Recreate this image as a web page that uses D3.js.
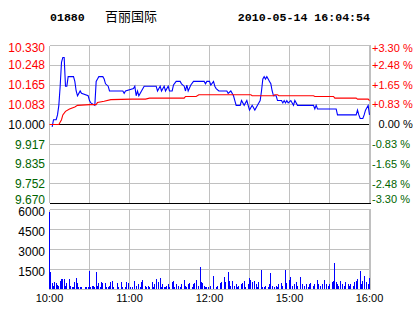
<!DOCTYPE html>
<head>
<meta charset="utf-8">
<script src="https://d3js.org/d3.v7.min.js"></script>
<style>
  body { margin:0; background:#fff; }
  text { font-family: "Liberation Sans", Arial, sans-serif; font-size: 12px; }
  .grid line { stroke: #c0c0c0; shape-rendering: crispEdges; }
  .head { font-family: "Liberation Mono", monospace; font-weight: bold; font-size: 11.6px; }
</style>
<body>
<script>
const stockCode = "01880";
const stockName = "百丽国际";
const stamp = "2010-05-14 16:04:54";
const preClose = 10.0;

const priceTicks = ["10.330", "10.248", "10.165", "10.083", "10.000", "9.917", "9.835", "9.752", "9.670"];
const pctTicks = ["+3.30 %", "+2.48 %", "+1.65 %", "+0.83 %", "0.00 %", "-0.83 %", "-1.65 %", "-2.48 %", "-3.30 %"];
const volTicks = [6000, 4500, 3000, 1500];
const timeTicks = [0, 60, 120, 180, 240];
const timeLabels = ["10:00", "11:00", "12:00", "15:00", "16:00"];

// trading minutes after 10:00 (lunch break removed)
const priceMin = [2, 3, 5, 6, 7, 8, 9, 10, 11, 12, 13, 14, 18, 19, 20, 21, 22, 23, 24, 29, 30, 31, 34, 35, 36, 37, 40, 41, 42, 44, 45,
  55, 56, 57, 63, 64, 65, 66, 67, 69, 71, 80, 81, 83, 84, 86, 87, 89, 90, 92, 93, 95, 98, 99, 101, 102, 103, 104, 106, 108,
  116, 117, 118, 120, 121, 123, 124, 125, 127, 133, 134, 136, 138, 139, 140, 143, 144, 146, 148, 149, 150, 152, 154, 156,
  158, 159, 160, 161, 162, 163, 164, 165, 166, 167, 168, 170, 171, 174, 175, 176, 177, 178, 179, 181, 182, 183, 184, 186,
  198, 199, 200, 201, 215, 216, 230, 231, 232, 233, 235, 236, 237, 239, 240];
const prices = [9.99, 10.02, 10.02, 10.04, 10.08, 10.16, 10.26, 10.28, 10.28, 10.16, 10.16, 10.20, 10.20, 10.18, 10.14, 10.12, 10.13, 10.14, 10.13, 10.12, 10.10, 10.09, 10.08, 10.18, 10.19, 10.20, 10.20, 10.19, 10.17, 10.16, 10.14,
  10.14, 10.13, 10.14, 10.15, 10.16, 10.12, 10.14, 10.12, 10.14, 10.16, 10.16, 10.14, 10.16, 10.14, 10.16, 10.14, 10.16, 10.14, 10.14, 10.165, 10.18, 10.18, 10.17, 10.16, 10.14, 10.165, 10.14, 10.165, 10.18,
  10.18, 10.17, 10.18, 10.18, 10.165, 10.18, 10.16, 10.15, 10.14, 10.14, 10.13, 10.14, 10.12, 10.10, 10.08, 10.08, 10.10, 10.08, 10.10, 10.08, 10.06, 10.08, 10.06, 10.08,
  10.10, 10.14, 10.19, 10.20, 10.19, 10.20, 10.19, 10.18, 10.17, 10.14, 10.12, 10.12, 10.10, 10.10, 10.09, 10.10, 10.09, 10.10, 10.09, 10.10, 10.09, 10.08, 10.10, 10.08,
  10.08, 10.065, 10.08, 10.065, 10.065, 10.04, 10.04, 10.06, 10.04, 10.025, 10.025, 10.04, 10.06, 10.08, 10.04];

const avgMin = [0, 7, 9, 10, 12, 15, 19, 21, 30, 35, 36, 41, 46, 62, 72, 75, 101, 102, 110, 112, 151, 152, 168, 169, 171, 172, 198, 199, 213, 214, 230, 231, 239, 240];
const avgPrices = [10.00, 10.00, 10.02, 10.04, 10.055, 10.065, 10.073, 10.08, 10.083, 10.083, 10.092, 10.097, 10.104, 10.106, 10.106, 10.11, 10.11, 10.117, 10.117, 10.124, 10.124, 10.12, 10.12, 10.124, 10.124, 10.12, 10.12, 10.117, 10.117, 10.11, 10.11, 10.106, 10.106, 10.10];

const volMin = [0, 1, 2, 3, 4, 5, 6, 7, 8, 9, 10, 11, 12, 13, 15, 16, 17, 18, 19, 20, 21, 22, 23, 24, 27, 28, 29, 30, 31, 32, 33, 34, 35, 36, 37, 38, 39, 40, 42, 43, 44, 45, 46, 47, 48,
  51, 52, 54, 55, 57, 58, 59, 61, 62, 64, 65, 67, 68, 69, 70, 72, 73, 74, 75, 77, 78, 79, 80, 82, 83, 84, 85, 86, 87, 88, 89, 90, 92, 93, 94, 95, 97, 98, 99,
  101, 102, 103, 104, 105, 107, 108, 109, 110, 112, 113, 114, 115, 116, 117, 118, 119, 121, 123, 125, 126, 128, 129, 131, 132, 134, 135, 136, 137, 139, 140, 141, 142, 144, 145, 146, 147, 149,
  150, 151, 152, 154, 155, 156, 157, 159, 160, 161, 162, 164, 165, 166, 167, 169, 170, 171, 172, 174, 175, 177, 178, 180, 181, 182, 184, 185, 186, 188, 190, 191, 193, 194, 195, 196, 198, 199,
  201, 202, 203, 205, 206, 208, 209, 210, 212, 213, 214, 215, 216, 217, 218, 220, 221, 222, 224, 225, 226, 228, 229, 230, 231, 233, 234, 235, 236, 238, 239, 240];
const volumes = [5800, 1250, 425, 250, 500, 425, 325, 250, 575, 750, 750, 750, 250, 425, 750, 250, 175, 125, 500, 825, 425, 175, 175, 175, 175, 175, 175, 1325, 175, 250, 250, 175, 1300, 250, 425, 175, 500, 425, 425, 175, 175, 250, 500, 575, 175,
  425, 175, 500, 175, 175, 500, 425, 175, 175, 575, 250, 375, 175, 500, 675, 250, 175, 250, 175, 500, 175, 375, 750, 500, 825, 175, 375, 175, 175, 250, 375, 175, 500, 625, 175, 375, 250, 175, 375,
  675, 250, 175, 375, 425, 175, 375, 425, 675, 250, 1675, 500, 425, 250, 175, 175, 175, 250, 1000, 175, 250, 425, 500, 875, 500, 1250, 625, 250, 575, 250, 375, 175, 250, 375, 425, 625, 175, 375,
  825, 675, 500, 575, 375, 175, 550, 1450, 175, 175, 250, 175, 375, 1200, 250, 175, 250, 175, 375, 425, 250, 1450, 425, 675, 925, 250, 375, 500, 250, 925, 375, 250, 375, 175, 375, 425, 250, 375,
  700, 375, 250, 375, 700, 375, 250, 375, 500, 625, 1925, 550, 375, 250, 625, 375, 250, 500, 375, 250, 375, 250, 550, 625, 750, 1375, 375, 625, 1000, 500, 375, 800];

const red = "#ff0000", green = "#006400";
const tickColor = (i, mid) => i < mid ? red : (i === mid ? "#000" : green);

const svg = d3.select("body").append("svg")
    .attr("width", 414)
    .attr("height", 314)
    .style("background", "#fff");

const x = d3.scaleLinear().domain([0, 240]).range([49.5, 369.5]);
const y = d3.scaleLinear().domain([9.67, 10.33]).range([203.5, 45.5]);
const yv = d3.scaleLinear().domain([0, 6000]).range([289, 209]);
const gridMin = d3.range(0, 241, 30);
const crisp = v => Math.floor(v) + 0.5;

// header
svg.append("text").attr("class", "head").attr("x", 50).attr("y", 21).text(stockCode);
svg.append("text").attr("x", 105).attr("y", 20.5)
    .style("font-family", "'Noto Sans CJK SC'").style("font-size", "13px").text(stockName);
svg.append("text").attr("class", "head").attr("x", 370).attr("y", 21).attr("text-anchor", "end").text(stamp);

// price panel grid
const g1 = svg.append("g").attr("class", "grid");
g1.selectAll(".h").data(priceTicks).enter().append("line")
    .attr("x1", 49.5).attr("x2", 370.5)
    .attr("y1", d => crisp(y(+d))).attr("y2", d => crisp(y(+d)))
    .style("stroke", (d, i) => (i === 4 || i === 8) ? "#000" : null);
g1.selectAll(".v").data(gridMin).enter().append("line")
    .attr("x1", d => crisp(x(d))).attr("x2", d => crisp(x(d)))
    .attr("y1", 45.5).attr("y2", 203);
g1.append("line").attr("x1", 370.5).attr("x2", 370.5).attr("y1", 45.5).attr("y2", 203);

// volume panel grid
const g2 = svg.append("g").attr("class", "grid");
g2.selectAll(".h").data(volTicks.concat([0])).enter().append("line")
    .attr("x1", 49.5).attr("x2", 370.5)
    .attr("y1", d => crisp(yv(d))).attr("y2", d => crisp(yv(d)));
g2.selectAll(".v").data(gridMin).enter().append("line")
    .attr("x1", d => crisp(x(d))).attr("x2", d => crisp(x(d)))
    .attr("y1", 209.5).attr("y2", 289.5);
g2.append("line").attr("x1", 370.5).attr("x2", 370.5).attr("y1", 209.5).attr("y2", 289.5);

// labels
svg.selectAll(".pl").data(priceTicks).enter().append("text")
    .attr("x", 45).attr("text-anchor", "end").attr("dy", "0.35em")
    .attr("y", d => Math.max(48, Math.min(199.5, y(+d))))
    .style("fill", (d, i) => tickColor(i, 4))
    .text(d => d);
svg.selectAll(".rl").data(pctTicks).enter().append("text")
    .attr("x", d => /^[+-]/.test(d) ? 372 : 378.5).attr("dy", "0.35em")
    .attr("y", (d, i) => Math.max(48, Math.min(199.5, y(+priceTicks[i]))))
    .style("fill", (d, i) => tickColor(i, 4))
    .style("font-size", "11px")
    .text(d => d);
svg.selectAll(".vl").data(volTicks).enter().append("text")
    .attr("x", 45).attr("text-anchor", "end").attr("dy", "0.35em")
    .attr("y", d => yv(d) + 3)
    .text(d => d);
svg.selectAll(".tl").data(timeTicks).enter().append("text")
    .attr("x", d => x(d)).attr("y", 298).attr("dy", "0.35em")
    .attr("text-anchor", "middle")
    .style("font-size", "11px")
    .text((d, i) => timeLabels[i]);

// volume bars
svg.selectAll(".bar").data(volMin).enter().append("rect")
    .attr("x", d => Math.floor(x(d)))
    .attr("width", 1)
    .attr("y", (d, i) => yv(volumes[i]))
    .attr("height", (d, i) => 289 - yv(volumes[i]))
    .style("fill", "#0000ff")
    .style("shape-rendering", "crispEdges");

// price and average lines
const line = d3.line().x(d => x(d[0])).y(d => y(d[1]));
svg.append("path")
    .datum(priceMin.map((m, i) => [m, prices[i]]))
    .attr("d", line)
    .style("fill", "none").style("stroke", "#0000ff").style("stroke-width", 1.1);
svg.append("path")
    .datum(avgMin.map((m, i) => [m, avgPrices[i]]))
    .attr("d", line)
    .style("fill", "none").style("stroke", red).style("stroke-width", 1.1);
</script>
</body>
